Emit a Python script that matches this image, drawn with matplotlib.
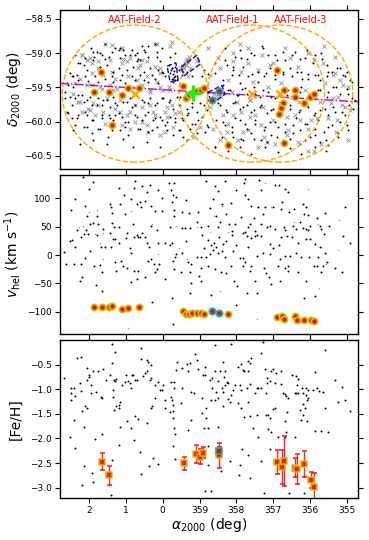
import matplotlib
matplotlib.use("Agg")
import matplotlib.pyplot as plt
import numpy as np
from matplotlib.patches import Ellipse, Polygon

# ---------------- data ----------------
# field centres (RA, Dec) and labels
field_names = ["AAT-Field-2", "AAT-Field-1", "AAT-Field-3"]
field_ra = [0.75, 357.58, 356.81]
field_dec = [-59.59, -59.59, -59.59]
label_ra = [0.75, 358.09, 356.24]
field_radius = 1.0

# orbit track
orbit_ra = [2.79, 354.69]
orbit_dec = [-59.44, -59.71]

# galaxy centre
centre_ra, centre_dec = 359.175, -59.58

# HST-like footprints
poly1_ra = [359.88, 359.64, 359.58, 359.80]
poly1_dec = [-59.19, -59.14, -59.39, -59.42]
poly2_ra = [359.50, 359.07, 358.98, 359.42]
poly2_dec = [-59.20, -59.03, -59.16, -59.33]
poly3_ra = [358.77, 358.39, 358.31, 358.66]
poly3_dec = [-59.57, -59.47, -59.60, -59.74]

# members on the sky
mem_ra = [1.864, 1.674, 1.457, 1.367, 1.112, 0.954, 0.650,
          359.438, 359.365, 359.283, 359.210, 359.074, 358.957, 358.876,
          358.216, 356.885, 356.694, 356.738, 356.776, 356.847, 356.694,
          356.404, 356.396, 356.159, 355.996, 355.888]
mem_dec = [-59.564, -59.271, -59.564, -60.05, -59.61, -59.505, -59.505,
           -59.48, -59.656, -59.61, -59.583, -59.553, -59.539, -59.51,
           -60.343, -59.246, -59.53, -59.729, -59.807, -59.89, -60.31,
           -59.53, -59.646, -59.725, -59.646, -59.597]
cyan_ra = [358.650, 358.468]
cyan_dec = [-59.685, -59.546]

# members: velocities
kin_ra = [1.864, 1.655, 1.457, 1.367, 1.112, 0.949, 0.642,
          359.438, 359.365, 359.283, 359.210, 359.074, 358.957, 358.876,
          358.216, 356.885, 356.757, 356.694, 356.404, 356.357, 356.159,
          355.977, 355.879]
kin_v = [-91.7, -91.5, -91.7, -90.5, -94.4, -93.2, -91.6,
         -98.2, -103, -104.5, -101.7, -101.7, -101.7, -103,
         -104.5, -109.4, -108, -112.7, -108, -114.5, -114,
         -114, -115.3]
kin_cyan_ra = [358.650, 358.468]
kin_cyan_v = [-99.3, -102]

# members: metallicities
feh_ra = [1.655, 1.457, 359.419, 359.09, 358.976, 358.895, 358.47,
          356.885, 356.765, 356.694, 356.404, 356.357, 356.159, 355.977, 355.879]
feh_val = [-2.47, -2.75, -2.50, -2.32, -2.37, -2.29, -2.34,
           -2.48, -2.58, -2.45, -2.59, -2.62, -2.52, -2.84, -2.98]
feh_err = [0.17, 0.19, 0.13, 0.18, 0.15, 0.11, 0.25,
           0.25, 0.35, 0.51, 0.19, 0.30, 0.26, 0.16, 0.28]
feh_cyan_ra = [358.47]
feh_cyan_val = [-2.25]
feh_cyan_err = [0.08]

# background stars on the sky (observed)
sky_ra = [1.95, 1.88, 1.79, 1.86, 1.66, 1.57, 1.47, 1.38, 1.29, 1.16, 1.07, 0.89, 0.75, 0.66, 0.70,
          0.57, 0.48, 0.39, 0.21, 0.16, 0.02, 359.84, 359.77, 2.24, 2.15, 2.06, 2.34, 2.29, 2.47, 2.56,
          2.43, 2.11, 2.02, 1.84, 1.75, 1.57, 1.38, 1.34, 1.16, 1.11, 1.02, 0.84, 0.75, 0.61, 0.52,
          0.39, 0.30, 0.21, 0.12, 0.02, 359.93, 359.66, 359.57, 359.48, 359.35, 359.21, 358.89, 358.94,
          358.76, 2.65, 2.52, 2.38, 2.20, 2.06, 1.93, 1.75, 1.66, 1.52, 1.34, 1.25, 1.07, 0.89, 0.75,
          0.57, 0.39, 0.21, 0.02, 359.84, 359.71, 359.62, 359.53, 359.35, 359.21, 359.07, 358.89,
          358.76, 2.61, 2.47, 2.29, 2.11, 1.93, 1.66, 1.47, 1.34, 1.11, 0.93, 0.75, 0.57, 0.39, 0.21,
          0.02, 359.80, 359.66, 359.48, 359.35, 359.21, 359.03, 358.80, 2.38, 2.06, 1.75, 1.38, 1.02,
          0.61, 0.30, 359.93, 359.57, 359.44, 359.26, 358.85, 1.34, 1.29,
          358.30, 358.03, 357.90, 357.72, 357.53, 357.31, 357.13, 356.90, 356.72, 356.49, 356.27,
          356.09, 355.86, 355.68, 355.54, 358.26, 358.08, 357.94, 357.81, 357.58, 357.40, 357.26,
          357.08, 356.95, 356.72, 356.54, 356.36, 356.22, 356.04, 355.86, 355.72, 355.54, 355.41,
          355.27, 355.09, 354.91, 355.00, 358.35, 358.17, 357.99, 357.85, 357.72, 357.53, 357.35,
          357.13, 356.95, 356.63, 356.45, 356.27, 356.09, 355.72, 355.54, 355.36, 355.18, 355.00,
          354.86, 358.44, 358.26, 358.08, 357.90, 357.72, 357.53, 357.35, 357.17, 356.99, 356.81,
          356.54, 356.31, 356.09, 355.90, 355.72, 355.50, 355.36, 355.13, 354.95, 358.35, 358.12,
          357.90, 357.72, 357.49, 357.26, 357.08, 356.86, 356.67, 356.45, 356.27, 356.09, 355.86,
          355.63, 355.41, 355.23, 355.00, 358.08, 357.81, 357.53, 357.17, 356.90, 356.54, 356.27,
          355.99, 355.72, 355.50, 358.26, 358.58,
          359.75, 359.72, 359.68, 359.70, 359.74, 359.66, 359.71, 359.67]
sky_dec = [-58.92, -58.98, -58.99, -59.05, -59.02, -59.08, -59.05, -58.98, -58.93, -58.93, -58.95,
           -59.02, -59.03, -59.08, -59.12, -58.90, -58.98, -59.05, -58.87, -58.98, -58.93, -59.17,
           -59.25, -59.15, -59.17, -59.25, -59.32, -59.39, -59.34, -59.46, -59.49, -59.34, -59.41,
           -59.34, -59.42, -59.37, -59.34, -59.42, -59.39, -59.32, -59.44, -59.34, -59.39, -59.32,
           -59.39, -59.42, -59.32, -59.37, -59.44, -59.27, -59.34, -59.39, -59.25, -59.32, -59.27,
           -59.34, -59.25, -59.34, -59.30, -59.56, -59.64, -59.66, -59.61, -59.69, -59.76, -59.66,
           -59.76, -59.69, -59.64, -59.76, -59.71, -59.66, -59.76, -59.69, -59.73, -59.76, -59.66,
           -59.71, -59.81, -59.64, -59.76, -59.81, -59.73, -59.86, -59.76, -59.69, -59.86, -59.95,
           -59.90, -59.86, -59.98, -59.95, -59.90, -59.98, -59.93, -60.00, -59.90, -59.98, -59.86,
           -59.95, -59.98, -59.93, -60.00, -59.95, -59.90, -60.03, -59.98, -60.05, -60.05, -60.08,
           -60.10, -60.12, -60.08, -60.10, -60.12, -60.05, -60.12, -60.22, -60.10, -60.15, -60.00,
           -59.90,
           -58.93, -59.05, -58.95, -59.08, -59.03, -58.90, -59.03, -59.10, -58.98, -59.03, -59.08,
           -58.95, -59.03, -59.08, -59.17, -59.17, -59.25, -59.32, -59.20, -59.30, -59.27, -59.34,
           -59.22, -59.32, -59.30, -59.22, -59.27, -59.37, -59.30, -59.32, -59.39, -59.34, -59.27,
           -59.22, -59.32, -59.39, -59.27, -59.47, -59.54, -59.61, -59.52, -59.59, -59.49, -59.64,
           -59.56, -59.66, -59.61, -59.52, -59.56, -59.66, -59.54, -59.64, -59.49, -59.59, -59.52,
           -59.66, -59.76, -59.86, -59.73, -59.81, -59.76, -59.83, -59.78, -59.88, -59.81, -59.90,
           -59.81, -59.86, -59.76, -59.90, -59.83, -59.90, -59.78, -59.86, -59.76, -60.00, -60.08,
           -59.98, -60.10, -60.03, -60.12, -60.00, -60.08, -60.15, -60.05, -60.12, -60.03, -60.10,
           -60.15, -60.05, -60.17, -60.05, -60.22, -60.27, -60.25, -60.30, -60.22, -60.25, -60.32,
           -60.22, -60.30, -60.34, -60.30, -60.37,
           -59.22, -59.30, -59.26, -59.35, -59.38, -59.20, -59.42, -59.33]

# more observed stars (second reading of the sky panel)
sky2_ra = [2.38, 2.52, 2.61, 2.43, 2.29, 2.11, 1.88, 1.70, 1.57, 1.20, 1.16, 1.02, 0.84, 0.70, 0.61,
           0.52, 0.39, 0.16, 0.07, 359.80, 359.66, 1.70, 1.52, 1.34, 1.20, 0.98, 0.80, 0.52, 0.34,
           0.12, 359.98, 359.80, 359.71, 359.75, 359.62, 2.65, 2.47, 2.29, 2.15, 1.97, 1.79, 1.61,
           1.43, 1.29, 0.98, 0.84, 0.52, 0.34, 0.16, 359.98, 359.80, 359.57, 359.53, 359.21, 358.98,
           358.80, 2.56, 2.33, 2.06, 1.88, 1.66, 1.43, 1.20, 1.02, 0.70, 0.48, 0.25, 0.07, 359.89,
           359.66, 359.44, 359.30, 359.12, 358.94, 358.76, 2.43, 2.15, 1.93, 1.70, 1.48, 1.16, 0.93,
           0.66, 0.39, 0.16, 359.89, 359.71, 359.53, 359.35, 359.07, 2.24, 1.88, 1.52, 1.07, 0.80,
           0.43, 0.07,
           358.59, 358.31, 358.09, 357.86, 357.59, 357.27, 356.96, 356.68, 356.41, 356.14, 355.91,
           355.69, 358.59, 358.36, 358.13, 357.91, 357.68, 357.41, 357.18, 356.96, 356.73, 356.50,
           356.23, 356.05, 355.78, 355.51, 355.19, 355.05, 354.87, 358.22, 357.95, 357.77, 357.50,
           357.27, 357.05, 356.59, 356.23, 355.78, 355.51, 355.28, 354.96, 354.78, 358.50, 358.27,
           358.04, 357.82, 357.59, 357.32, 357.05, 356.55, 356.28, 356.05, 355.87, 355.60, 355.33,
           355.05, 354.83, 358.54, 358.31, 358.04, 357.77, 357.50, 357.23, 356.96, 356.68, 356.37,
           356.14, 355.78, 355.51, 355.19, 354.96, 358.40, 358.13, 357.86, 357.59, 357.32, 357.05,
           356.73, 356.46, 356.14, 355.87, 355.55, 355.23, 358.59, 358.22, 357.91, 357.59, 357.23,
           356.87, 356.55, 356.23, 355.87, 355.55]
sky2_dec = [-59.03, -59.29, -59.44, -59.34, -59.15, -59.07, -59.10, -59.00, -58.87, -58.95, -59.07,
            -59.03, -58.95, -59.00, -59.10, -58.95, -58.90, -59.05, -59.12, -59.05, -59.00, -59.20,
            -59.17, -59.27, -59.22, -59.25, -59.20, -59.27, -59.22, -59.25, -59.29, -59.29, -59.37,
            -59.22, -59.39, -59.66, -59.76, -59.61, -59.71, -59.64, -59.76, -59.69, -59.78, -59.73,
            -59.71, -59.78, -59.71, -59.66, -59.73, -59.66, -59.69, -59.76, -59.64, -59.78, -59.73,
            -59.83, -59.88, -59.95, -59.90, -59.98, -59.90, -59.95, -59.88, -60.00, -59.93, -59.90,
            -59.98, -59.93, -60.00, -59.95, -59.98, -59.88, -60.03, -59.93, -60.08, -60.12, -60.08,
            -60.17, -60.10, -60.22, -60.12, -60.20, -60.10, -60.15, -60.08, -60.12, -60.20, -60.12,
            -60.27, -60.17, -60.32, -60.27, -60.32, -60.25, -60.37, -60.29, -60.37,
            -59.15, -59.10, -59.20, -59.07, -59.00, -58.93, -59.03, -59.10, -58.98, -59.07, -59.15,
            -59.00, -59.29, -59.39, -59.32, -59.44, -59.34, -59.42, -59.29, -59.37, -59.27, -59.34,
            -59.27, -59.37, -59.32, -59.27, -59.22, -59.34, -59.42, -59.54, -59.61, -59.51, -59.59,
            -59.54, -59.64, -59.54, -59.49, -59.54, -59.56, -59.49, -59.59, -59.69, -59.73, -59.83,
            -59.71, -59.78, -59.86, -59.76, -59.83, -59.76, -59.83, -59.78, -59.88, -59.81, -59.86,
            -59.90, -59.81, -59.98, -60.05, -59.95, -60.03, -59.98, -60.08, -60.00, -60.03, -59.95,
            -60.03, -59.98, -60.08, -60.00, -60.12, -60.22, -60.15, -60.25, -60.17, -60.27, -60.20,
            -60.27, -60.17, -60.27, -60.20, -60.27, -60.22, -60.37, -60.42, -60.37, -60.47, -60.37,
            -60.44, -60.39, -60.47, -60.37, -60.42]

# background targets on the sky (not observed)
grey_ra = [2.20, 2.06, 1.93, 1.75, 1.11, 1.07, 1.57, 0.21, 359.74, 359.80, 0.57, 0.98, 2.24, 2.38,
           1.93, 1.66, 1.43, 1.25, 0.84, 0.57, 0.34, 0.02, 359.84, 2.43, 2.29, 2.02, 1.84, 1.29,
           1.16, 0.89, 0.57, 0.21, 359.93, 359.75, 2.20, 1.57, 1.11, 0.75, 0.39, 359.93, 359.57,
           1.75, 1.38, 0.66, 0.07,
           358.76, 357.67, 357.31, 356.67, 355.90, 355.63, 355.32, 358.08, 356.99, 358.44, 358.71,
           355.36, 355.09, 358.80, 358.44, 357.99, 357.63, 356.72, 356.31, 355.99, 355.72, 355.36,
           355.13, 358.71, 358.08, 357.63, 356.63, 356.27, 355.81, 355.27, 358.26, 357.81, 357.26,
           356.63, 355.90, 357.17, 354.91,
           359.50, 359.45, 359.40, 359.35, 359.30, 359.42, 359.37, 359.32, 359.47, 359.28, 359.38,
           358.60, 358.55, 358.50, 358.45]
grey_dec = [-59.03, -59.10, -59.15, -59.22, -58.93, -59.08, -58.87, -58.86, -58.83, -58.90, -59.10,
            -59.12, -59.37, -59.44, -59.47, -59.52, -59.47, -59.52, -59.49, -59.47, -59.56, -59.54,
            -59.49, -59.59, -59.71, -59.81, -59.90, -59.81, -59.86, -59.86, -59.78, -59.90, -59.86,
            -59.76, -59.86, -60.03, -60.05, -60.00, -60.15, -60.15, -59.86, -59.76, -59.27, -59.22,
            -59.22,
            -58.93, -58.93, -59.02, -58.93, -59.10, -58.90, -59.05, -59.12, -59.15, -59.22, -59.32,
            -59.32, -59.47, -59.49, -59.59, -59.71, -59.69, -59.73, -59.71, -59.59, -59.71, -59.66,
            -59.76, -59.78, -59.90, -59.93, -59.93, -59.98, -59.95, -59.98, -60.15, -60.15, -60.22,
            -60.20, -60.42, -60.30, -59.83,
            -59.22, -59.18, -59.15, -59.10, -59.08, -59.22, -59.17, -59.13, -59.25, -59.05, -59.12,
            -59.60, -59.65, -59.58, -59.62]

grey2_ra = [2.20, 1.97, 1.75, 1.43, 1.11, 0.89, 0.61, 0.43, 0.21, 0.07, 1.93, 1.61, 1.29, 0.93,
            0.70, 0.43, 0.16, 2.06, 1.70, 1.34, 0.89, 0.34, 0.07, 359.80, 2.24, 1.88, 1.52, 1.16,
            0.75, 0.34, 359.89, 359.66, 1.97, 1.61, 0.98, 0.57, 0.25, 359.89, 359.71, 1.43, 0.89,
            0.43, 0.07, 359.17, 358.98, 1.38, 0.16, 359.30, 359.07, 359.26,
            358.50, 358.09, 357.68, 357.41, 357.09, 356.55, 356.32, 356.05, 355.64, 355.33, 355.19,
            354.96, 358.22, 357.86, 357.54, 357.14, 356.78, 356.14, 355.60, 355.23, 358.50, 358.13,
            357.64, 357.27, 356.82, 356.50, 355.91, 355.42, 355.05, 358.36, 357.86, 357.50, 357.00,
            356.41, 355.96, 355.51, 358.63, 358.22, 357.68, 357.32, 356.59, 356.05, 355.28, 357.95,
            357.41, 356.96, 356.32, 355.69, 354.96, 358.45, 356.05, 357.91]
grey2_dec = [-59.03, -59.07, -59.12, -59.10, -59.15, -59.07, -59.17, -59.12, -59.20, -59.29, -59.29,
             -59.32, -59.37, -59.34, -59.39, -59.34, -59.42, -59.47, -59.49, -59.54, -59.54, -59.54,
             -59.49, -59.54, -59.71, -59.73, -59.66, -59.69, -59.76, -59.76, -59.78, -59.88, -59.83,
             -59.86, -59.90, -60.00, -59.86, -59.93, -60.08, -60.03, -60.10, -60.05, -60.20, -60.22,
             -60.08, -58.88, -58.87, -59.34, -59.12, -59.22,
             -59.07, -59.00, -59.15, -59.25, -59.17, -59.07, -59.20, -59.00, -59.15, -59.29, -59.39,
             -59.49, -59.39, -59.27, -59.42, -59.49, -59.44, -59.54, -59.44, -59.64, -59.59, -59.56,
             -59.69, -59.78, -59.73, -59.64, -59.66, -59.73, -59.78, -59.90, -59.86, -59.90, -59.98,
             -59.90, -59.98, -59.95, -60.10, -60.03, -60.12, -60.05, -60.12, -60.10, -60.15, -60.27,
             -60.37, -60.32, -60.29, -60.32, -60.27, -60.27, -60.42, -58.86]

# background stars: velocities
v_ra = [2.16, 1.89, 2.01, 1.18, 0.74, 0.56, 0.35, 359.83, 359.70, 358.83, 2.39, 2.12, 1.44, 1.17,
        1.05, 0.87, 0.78, 0.415, 0.14, 0.02, 359.78, 359.72, 359.63, 359.37, 2.50, 2.05, 1.78, 1.41,
        1.39, 1.03, 0.71, 0.62, 0.58, 0.47, 0.31, 0.22, 0.03, 359.74, 359.69, 359.47, 359.28, 359.04,
        2.34, 2.14, 1.98, 1.89, 1.77, 1.62, 1.375, 1.32, 1.18, 0.97, 0.80, 0.71, 0.67, 0.56, 0.47,
        0.31, 0.15, 359.81, 359.70, 359.47, 359.40, 359.26, 359.08, 358.97, 358.92, 2.51, 2.46, 2.68,
        2.39, 2.41, 2.21, 2.09, 2.03, 1.78, 1.68, 1.57, 1.44, 1.41, 1.35, 1.30, 1.19, 0.99, 0.88,
        0.87, 0.78, 0.62, 0.42, 0.38, 0.40, 0.31, 0.24, 0.10, 0.14, 359.93, 359.81, 359.76, 359.63,
        359.67, 359.72, 359.69, 359.47, 359.37, 359.31, 359.22, 359.06, 358.97, 358.87, 358.81,
        358.97, 2.62, 2.23, 2.12, 1.98, 1.86, 1.69, 1.64, 1.30, 1.28, 1.12, 1.09, 0.96, 0.78, 0.67,
        0.70, 0.47, 0.22, 0.15, 0.87, 359.94, 359.49, 359.26, 359.22, 359.26, 358.95, 359.01, 2.25,
        2.19, 1.80, 1.64, 0.29, 359.74, 359.72,
        358.31, 358.02, 357.79, 357.77, 357.68, 357.39, 357.34, 356.96, 356.85, 356.68, 356.59,
        358.63, 358.57, 358.50, 357.77, 358.72, 358.39, 358.15, 357.59, 357.41, 357.21, 357.00,
        356.76, 356.78, 356.58, 356.43, 356.19, 356.10, 356.16, 356.05, 355.80, 355.60, 355.05,
        358.77, 358.54, 358.45, 358.27, 358.51, 358.21, 358.13, 358.04, 357.86, 357.77, 357.68,
        357.64, 357.52, 357.50, 357.32, 357.27, 357.16, 357.09, 356.96, 356.70, 356.67, 356.46,
        356.37, 356.28, 356.19, 356.12, 356.05, 356.00, 355.73, 355.69, 355.62, 355.49, 355.10,
        358.77, 358.69, 358.60, 358.54, 358.48, 358.36, 358.27, 358.13, 358.00, 357.82, 357.70,
        357.59, 357.68, 357.50, 357.43, 357.32, 357.09, 357.00, 356.85, 356.78, 356.61, 356.50,
        356.32, 356.10, 356.00, 355.85, 355.73, 355.58, 354.92, 358.72, 358.63, 358.50, 358.39,
        358.31, 358.09, 357.91, 357.82, 357.77, 357.61, 357.45, 357.27, 357.09, 356.82, 356.68,
        356.55, 356.39, 356.23, 356.03, 355.78, 355.64, 355.80, 355.53, 355.89, 358.77, 358.59,
        358.42, 358.27, 358.15, 357.82, 357.64, 357.25, 357.18, 357.11, 356.88, 356.67, 356.59,
        356.32, 356.59, 355.69, 355.33, 355.14, 358.68, 358.06, 357.97, 357.70, 357.50, 357.45,
        357.05, 356.82, 356.10, 355.85, 356.16, 358.00]
v_val = [138, 128, 116, 118, 130, 122, 124, 127, 127, 131, 99, 87, 90, 89, 106, 99, 118, 111, 115,
         101, 114, 106, 103, 97, 80, 69, 68, 84, 74, 72, 89, 93, 84, 96, 87, 78, 78, 93, 79, 75, 74,
         75, 44, 37, 55, 56, 55, 46, 56, 49, 49, 38, 54, 36, 31, 38, 31, 52, 44, 49, 69, 48, 48, 48,
         59, 49, 36, 25, 27, 6, 15, -15, 32, 44, 37, 36, 15, 15, 38, 15, 28, 28, 22, 30, 12, 4, 32,
         31, 22, 15, -10, -7, -15, -15, 21, 21, 17, 22, 2, -3, -10, -25, 3, 25, -13, -15, -3, -3, 12,
         -3, -22, -15, -15, -5, 7, -20, -17, -29, -13, -28, -10, -19, -22, -28, -28, -42, -38, -30,
         -25, -48, -42, -30, -29, -50, -66, -45, -37, -45, -39, -53, -63, -83, -75, -122,
         130, 115, 126, 106, 99, 132, 115, 124, 124, 116, 111, 99, 122, 112, 134, 83, 89, 91, 87, 85,
         84, 84, 93, 81, 75, 81, 90, 84, 72, 71, 65, 74, 85, 52, 69, 58, 72, 50, 55, 43, 55, 67, 40,
         49, 55, 65, 43, 55, 72, 49, 52, 46, 49, 44, 52, 46, 59, 48, 46, 44, 52, 52, 46, 37, 52, 34,
         27, 17, 22, 15, 32, 19, 25, 36, 17, 38, 34, 30, 15, 34, 35, 34, 19, 12, 17, 31, 34, 31, 22,
         28, 28, 19, 15, 3, 22, 2, 9, 3, 7, -3, 7, -5, -5, -13, -19, -1, 3, 1, -7, -1, -1, 3, -3, -3,
         -4, -19, -20, -13, -20, -19, -25, -29, -32, -20, -20, -28, -22, -32, -38, -19, -22, -28, -29,
         -20, -30, -22, -29, -70, -46, -54, -66, -45, -66, -51, -46, -45, -72, -76, -88]
vg_ra = [0.76, 1.78, 2.00, 0.85, 2.28, 2.16, 1.83, 1.62, 0.29, 359.65, 359.08, 359.56, 1.71, 1.62,
         359.33, 0.12, 357.21, 356.05, 358.40, 357.41, 357.05, 358.60, 358.72, 358.22, 356.43,
         355.78, 355.22, 355.69, 355.25, 355.55, 355.75, 358.45, 357.45, 0.94]
vg_val = [130, 79, 75, 78, 50, 52, 37, 38, 54, 52, 49, 12, 21, -7, -7, 2, 126, 116, 87, 84, 84, 69,
          40, 40, 58, 55, 62, 14, 8, -15, -58, -64, -113, -129]

# background stars: metallicities
m_ra = [2.68, 2.50, 2.41, 2.48, 2.39, 2.48, 2.34, 2.21, 2.25, 2.21, 2.12, 2.05, 2.19, 2.41, 2.14,
        2.53, 2.39, 2.05, 2.01, 2.00, 2.05, 1.94, 1.95, 1.89, 1.80, 1.77, 1.68, 1.66, 1.62, 1.53,
        1.44, 1.39, 1.375, 1.30, 1.32, 1.30, 1.26, 1.35, 1.35, 1.32, 1.26, 1.19, 1.19, 1.17, 1.10,
        1.03, 1.01, 0.94, 0.89, 0.87, 0.83, 0.80, 0.74, 0.69, 0.96, 0.87, 1.17, 0.76, 0.67, 0.58,
        0.58, 0.53, 0.47, 0.415, 0.40, 0.33, 0.415, 0.35, 0.31, 0.44, 0.32, 0.29, 0.22, 0.20, 0.14,
        0.08, 0.03, 359.99, 359.94, 359.93, 359.81, 359.78, 359.74, 359.72, 359.69, 359.72, 359.72,
        359.67, 359.69, 359.78, 359.69, 359.65, 359.60, 359.47, 359.49, 359.47, 359.35, 359.31,
        359.26, 359.22, 359.15, 359.11, 359.08, 359.04, 358.93, 358.90, 358.86, 358.81, 358.93,
        358.88, 358.81, 358.86, 359.24, 359.31, 359.72, 359.67, 0.38, 0.26, 0.12, 0.58, 0.62, 0.78,
        1.19, 1.39, 1.41, 1.92, 1.89, 2.18, 2.14, 1.85, 1.65, 358.86,
        358.57, 358.15, 357.27, 357.32, 357.68, 357.61, 357.64, 357.86, 357.95, 357.82, 357.79,
        357.68, 358.36, 358.45, 358.31, 358.57, 358.72, 358.66, 358.50, 358.33, 358.24, 358.30,
        358.22, 358.04, 357.91, 357.86, 357.70, 357.64, 357.43, 357.32, 357.18, 357.16, 357.05,
        357.00, 357.21, 356.91, 357.16, 357.09, 356.96, 356.79, 356.78, 356.73, 356.67, 356.50,
        356.39, 356.32, 356.34, 356.21, 356.10, 356.05, 356.19, 356.32, 355.91, 355.87, 355.80,
        355.76, 355.60, 355.64, 355.33, 355.13, 355.23, 355.05, 354.92, 355.60, 358.66, 358.40,
        358.54, 358.36, 358.09, 358.15, 358.22, 358.50, 358.68, 358.57, 358.36, 357.95, 357.68,
        357.50, 357.41, 356.41, 356.37, 356.64, 356.59, 356.12, 356.05, 356.07, 356.19, 356.14,
        356.28, 356.25, 356.19, 358.77, 358.51, 358.18, 357.86, 357.79, 357.64, 357.45, 357.54,
        357.18, 357.14, 357.09, 356.96, 357.00, 356.61, 356.68, 356.64, 357.14, 357.05, 356.87,
        356.68, 356.41, 356.07, 355.87, 355.69, 355.51, 358.77, 358.77, 358.18, 357.84, 357.68,
        357.89, 357.41, 357.34, 357.09, 357.93, 357.64, 357.25, 358.69, 358.42, 356.58, 356.16]
m_val = [-0.78, -0.98, -0.98, -1.08, -1.13, -1.22, -0.36, -0.34, -0.87, -1.03, -1.35, -1.38, -1.45,
         -1.62, -1.76, -1.98, -2.19, -0.56, -0.71, -0.76, -0.81, -0.91, -1.08, -0.64, -1.05, -0.63,
         -1.15, -1.18, -0.59, -0.81, -0.71, -0.47, -0.09, -0.24, -0.81, -0.83, -0.79, -1.01, -1.15,
         -1.42, -1.35, -1.32, -1.38, -1.25, -0.91, -0.85, -0.72, -0.83, -0.88, -0.97, -0.71, -0.72,
         -0.81, -0.81, -1.65, -1.79, -1.76, -1.55, -1.60, -0.17, -0.39, -0.74, -0.68, -0.41, -0.44,
         -0.51, -0.64, -0.81, -0.78, -1.69, -1.38, -1.35, -1.18, -0.91, -0.86, -1.01, -1.01, -0.91,
         -1.22, -1.38, -1.47, -1.15, -1.22, -1.32, -0.98, -1.45, -1.59, -1.91, -1.79, -0.86, -0.85,
         -0.61, -0.44, -0.98, -1.28, -0.56, -0.49, -0.63, -0.47, -1.05, -1.08, -0.29, -0.41, -0.59,
         -1.17, -0.71, -0.72, -1.38, -1.49, -1.79, -1.59, -0.54, -1.62, -1.82, -2.16, -2.41, -2.55,
         -2.40, -2.52, -2.72, -2.28, -2.03, -2.14, -2.43, -3.15, -2.70, -2.88, -2.94, -2.55, -2.01,
         -1.91, -3.07,
         -0.10, -0.09, -0.05, -0.27, -0.43, -0.37, -0.47, -0.49, -0.54, -0.61, -0.64, -0.64, -0.44,
         -0.63, -0.64, -0.63, -0.81, -0.78, -0.83, -0.76, -0.85, -0.91, -0.88, -0.91, -0.91, -1.01,
         -0.98, -0.90, -0.97, -0.98, -1.08, -0.78, -0.64, -0.58, -0.59, -0.68, -0.88, -0.83, -0.88,
         -0.90, -0.64, -1.08, -1.10, -0.72, -0.74, -0.79, -0.91, -0.98, -0.98, -1.01, -1.08, -1.08,
         -1.01, -0.66, -0.97, -1.03, -0.20, -1.05, -0.81, -0.95, -1.25, -1.22, -1.44, -1.38, -0.98,
         -0.98, -1.06, -1.06, -1.01, -1.12, -1.20, -1.17, -1.22, -1.22, -1.35, -1.28, -1.25, -1.08,
         -0.98, -1.08, -1.08, -1.13, -1.18, -1.12, -1.17, -1.22, -1.30, -1.38, -1.42, -1.62, -1.53,
         -1.79, -1.76, -1.25, -1.38, -1.57, -1.55, -1.52, -1.78, -1.52, -1.53, -1.59, -1.38, -1.40,
         -1.47, -1.65, -1.86, -1.80, -1.86, -1.98, -1.98, -1.97, -1.65, -1.84, -1.84, -1.86, -2.16,
         -2.53, -2.46, -2.21, -2.33, -2.53, -1.98, -2.46, -2.21, -2.75, -2.80, -3.11, -3.06, -2.65,
         -3.11, -3.11]


def xoff(ra):
    ra = np.asarray(ra, dtype=float)
    return np.where(ra > 180, ra - 360, ra)


plt.rcParams["font.family"] = "DejaVu Sans"
plt.rcParams["mathtext.fontset"] = "dejavusans"

fig = plt.figure(figsize=(3.69, 5.40), dpi=100)
ax1 = fig.add_axes([0.1626, 0.687, 0.808, 0.2945])
ax2 = fig.add_axes([0.1626, 0.3815, 0.808, 0.2945])
ax3 = fig.add_axes([0.1626, 0.0785, 0.808, 0.2920])

yell = "#c9c900"

# ---- top: sky ----
ax1.plot(xoff(grey_ra + grey2_ra), grey_dec + grey2_dec, "x", color="0.55", ms=2.6, mew=0.6,
         zorder=1)
ax1.plot(xoff(sky_ra + sky2_ra), sky_dec + sky2_dec, "o", color="k", ms=1.4, mew=0, zorder=2)
for name, ra, dec, lra in zip(field_names, field_ra, field_dec, label_ra):
    w = 2 * field_radius / np.cos(np.radians(dec))
    ax1.add_patch(Ellipse((xoff(ra), dec), w, 2 * field_radius, fill=False,
                          ec="orange", ls="--", lw=1.0, zorder=3))
    ax1.plot(xoff(ra), dec, "x", color="orange", ms=6, mew=1.8, zorder=4)
    ax1.text(xoff(lra), -58.52, name, color="red", fontsize=7, ha="center", va="center")
for pra, pdec in [(poly1_ra, poly1_dec), (poly2_ra, poly2_dec), (poly3_ra, poly3_dec)]:
    ax1.add_patch(Polygon(np.column_stack([xoff(pra), pdec]), closed=True, fill=False,
                          ec="blue", ls="--", lw=1.0, zorder=5))
ax1.plot(xoff(orbit_ra), orbit_dec, "-.", color="m", lw=1.0, zorder=3)
ax1.plot(xoff(mem_ra), mem_dec, "o", mfc="red", mec=yell, mew=1.3, ms=4.5, zorder=6)
ax1.plot(xoff(cyan_ra), cyan_dec, "o", mfc="red", mec="c", mew=1.3, ms=4.5, zorder=6)
ax1.plot(xoff(centre_ra), centre_dec, "+", color="lime", ms=11, mew=2.2, zorder=7)
ax1.set_ylim(-60.69, -58.37)
ax1.set_yticks([-58.5, -59.0, -59.5, -60.0, -60.5])
ax1.set_ylabel(r"$\delta_{2000}$ (deg)", fontsize=10)

# ---- middle: velocities ----
ax2.plot(xoff(vg_ra), vg_val, "o", color="0.6", ms=1.1, mew=0)
ax2.plot(xoff(v_ra), v_val, "o", color="k", ms=1.4, mew=0)
ax2.plot(xoff(kin_ra), kin_v, "o", mfc="red", mec=yell, mew=1.3, ms=4.5)
ax2.plot(xoff(kin_cyan_ra), kin_cyan_v, "o", mfc="red", mec="c", mew=1.3, ms=4.5)
ax2.set_ylim(-139, 141)
ax2.set_yticks([-100, -50, 0, 50, 100])
ax2.set_ylabel(r"$v_{\rm hel}$ (km s$^{-1}$)", fontsize=10)

# ---- bottom: metallicity ----
ax3.plot(xoff(m_ra), m_val, "o", color="k", ms=1.4, mew=0)
ax3.errorbar(xoff(feh_ra), feh_val, yerr=feh_err, fmt="s", mfc="red", mec=yell, mew=1.2,
             ms=4, ecolor="red", elinewidth=1.0, capsize=1.8, capthick=0.8, alpha=0.85)
ax3.errorbar(xoff(feh_cyan_ra), feh_cyan_val, yerr=feh_cyan_err, fmt="s", mfc="red", mec="c",
             mew=1.2, ms=4, ecolor="red", elinewidth=1.0, capsize=1.8, capthick=0.8)
ax3.set_ylim(-3.2, 0.0)
ax3.set_yticks([-3.0, -2.5, -2.0, -1.5, -1.0, -0.5])
ax3.set_ylabel("[Fe/H]", fontsize=10)
ax3.set_xlabel(r"$\alpha_{2000}$ (deg)", fontsize=10, labelpad=1)

xt = [2, 1, 0, -1, -2, -3, -4, -5]
xtl = ["2", "1", "0", "359", "358", "357", "356", "355"]
for ax in (ax1, ax2, ax3):
    ax.set_xlim(2.79, -5.31)
    ax.set_xticks(xt)
    ax.tick_params(direction="out", top=True, right=True, labelsize=6.5, length=3.5, width=0.8,
                   pad=2.5)
    for s in ax.spines.values():
        s.set_linewidth(1.0)
    ax.yaxis.set_label_coords(-0.125, 0.5)
ax1.set_xticklabels([])
ax2.set_xticklabels([])
ax3.set_xticklabels(xtl)

fig.savefig("out.png", dpi=100)
